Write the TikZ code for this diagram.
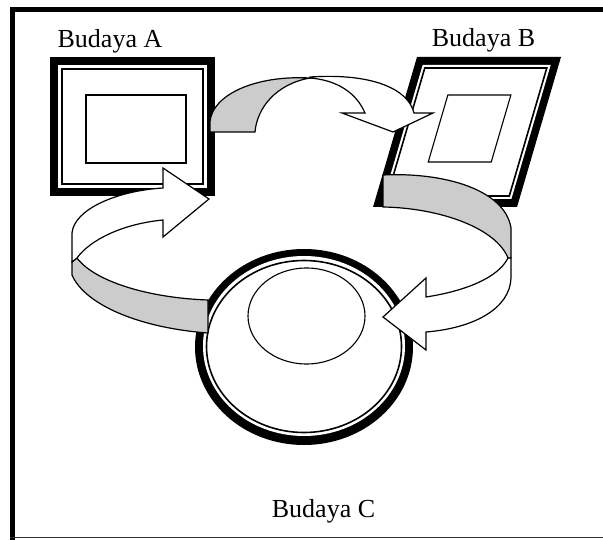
\documentclass[tikz,border=0pt]{standalone}
\usepackage{fontspec}
\setmainfont{Liberation Serif}
\begin{document}
\begin{tikzpicture}[x=1pt,y=-1pt,
  ribbon/.style={draw=black,line width=1.2pt,line join=miter},
  ribbonunder/.style={ribbon,fill=black!20},
  ribbontop/.style={ribbon,fill=white},
  budlabel/.style={font=\fontsize{26}{30}\selectfont,inner sep=0pt,anchor=base}]

\useasboundingbox (0,0) rectangle (603,540);
\fill[white] (0,0) rectangle (603,540);

% page frame: heavy top and left rules, thin bottom rule
\fill[black] (10,7) rectangle (603,12);
\fill[black] (10,7) rectangle (15,540);
\draw[line width=1.5pt,black!80] (10,537.5) -- (603,537.5);

% Budaya A: square picture frame
\fill[black] (50,57) rectangle (215,196);
\fill[white] (58,65) rectangle (207,188);
\draw[line width=1.6pt] (62,69) rectangle (203,184);
\draw[line width=1.1pt] (86,95) rectangle (186,163);

% Budaya B: slanted picture frame
\begin{scope}[shift={(417,57)},xslant=0.293]
  \fill[black] (0,0) -- (144,0) -- (144,150) -- (0,150) -- cycle;
  \fill[white] (8,8) -- (136,8) -- (136,142) -- (8,142) -- cycle;
  \draw[line width=1.6pt] (11,11) -- (133,11) -- (133,139) -- (11,139) -- cycle;
  \draw[line width=1.1pt] (42,38) -- (105,38) -- (105,105) -- (42,105) -- cycle;
\end{scope}

% Budaya C: round plate
\fill[black] (304,347) ellipse [x radius=109pt,y radius=98pt];
\fill[white] (304,346) ellipse [x radius=101pt,y radius=90pt];
\draw[line width=1.6pt] (304,346.5) ellipse [x radius=97.5pt,y radius=86pt];
\draw[line width=1.1pt] (306.5,316) ellipse [x radius=58.5pt,y radius=48pt];

% ribbon arrow A -> B
\path[ribbonunder] (210,132) -- (255,132)
  .. controls (257,108) and (276,84) .. (310,78)
  .. controls (255,75) and (212,95) .. (210,122) -- cycle;
\path[ribbontop] (310,77)
  .. controls (370,73) and (408,88) .. (414,113)
  -- (433,113) -- (393,132) -- (342,113) -- (365,113)
  .. controls (356,92) and (336,80) .. (310,78) -- cycle;

% ribbon arrow B -> C
\path[ribbonunder] (383,175) -- (383,207)
  .. controls (440,208) and (496,228) .. (508,258)
  -- (511,258) -- (511,228)
  .. controls (505,190) and (445,172) .. (383,175) -- cycle;
\path[ribbontop] (511,258) -- (511,278)
  .. controls (510,308) and (475,328) .. (426,332)
  -- (426,350) -- (383,317) -- (426,278) -- (426,297)
  .. controls (465,291) and (498,278) .. (508,258) -- cycle;

% ribbon arrow C -> A
\path[ribbonunder] (208,300) -- (208,333)
  .. controls (140,328) and (85,305) .. (72,275)
  -- (72,262) -- (77,258)
  .. controls (95,282) and (150,298) .. (208,300) -- cycle;
\path[ribbontop] (77,258) -- (72,262) -- (72,233)
  .. controls (74,210) and (115,191) .. (163,188)
  -- (163,168) -- (209,199) -- (163,237) -- (163,220)
  .. controls (122,224) and (90,240) .. (77,258) -- cycle;

% labels
\node[budlabel] (labA) at (110,48) {Budaya A};
\node[budlabel] (labB) at (483.5,47) {Budaya B};
\node[budlabel] (labC) at (323.5,517) {Budaya C};
\end{tikzpicture}
\end{document}
